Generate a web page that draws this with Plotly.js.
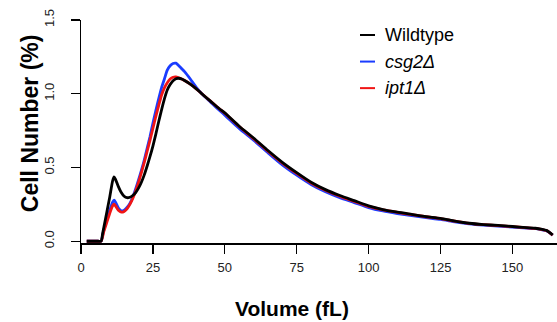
<!DOCTYPE html>
<html>
<head>
<meta charset="utf-8">
<script src="https://cdn.plot.ly/plotly-3.0.1.min.js"></script>
<style>html,body{margin:0;padding:0;background:#fff;}#chart{width:557px;height:322px;}</style>
</head>
<body>
<div id="chart"></div>
<script>
// Volume (fL)
var volume = [2,3,4,5,6,7,7.5,8,9,10,11,11.5,12,13,14,15,16,17,18,19,20,21,22,23,24,25,26,27,28,29,30,31,32,33,34,35,36,38,40,42,45,48,50,55,60,65,70,75,80,85,90,95,100,105,110,115,120,125,130,135,140,145,150,155,158,160,162,163,164];
// Cell Number (%)
var wildtype = [0,0,0,0,0,0,0.05,0.10,0.20,0.30,0.41,0.437,0.42,0.37,0.33,0.305,0.295,0.298,0.31,0.33,0.36,0.40,0.45,0.51,0.575,0.645,0.725,0.81,0.89,0.965,1.025,1.062,1.088,1.102,1.105,1.10,1.09,1.065,1.035,1.0,0.95,0.90,0.87,0.78,0.70,0.615,0.535,0.465,0.40,0.35,0.31,0.275,0.24,0.215,0.197,0.182,0.167,0.155,0.137,0.122,0.113,0.107,0.10,0.092,0.088,0.082,0.072,0.058,0.042];
var csg2 = [0,0,0,0,0,0,0.04,0.08,0.15,0.21,0.265,0.279,0.265,0.225,0.206,0.21,0.23,0.256,0.30,0.355,0.415,0.48,0.55,0.63,0.71,0.80,0.885,0.965,1.04,1.10,1.16,1.19,1.205,1.207,1.19,1.17,1.15,1.10,1.045,1.0,0.945,0.89,0.855,0.765,0.685,0.60,0.518,0.448,0.385,0.335,0.295,0.262,0.228,0.205,0.188,0.173,0.16,0.148,0.132,0.118,0.109,0.103,0.096,0.089,0.085,0.079,0.07,0.057,0.042];
var ipt1 = [0,0,0,0,0,0,0.03,0.07,0.13,0.19,0.24,0.251,0.24,0.21,0.197,0.202,0.22,0.25,0.29,0.34,0.40,0.465,0.535,0.61,0.685,0.765,0.845,0.92,0.99,1.04,1.075,1.10,1.112,1.114,1.108,1.10,1.09,1.065,1.035,1.0,0.95,0.90,0.868,0.778,0.695,0.61,0.53,0.46,0.395,0.345,0.305,0.27,0.236,0.213,0.196,0.18,0.166,0.153,0.136,0.121,0.112,0.106,0.099,0.091,0.087,0.081,0.071,0.057,0.042];

var seriesNames = ["Wildtype", "<i>csg2Δ</i>", "<i>ipt1Δ</i>"];
var seriesValues = [wildtype, csg2, ipt1];
var seriesColors = ["#000000", "#1a3cff", "#f01515"];
var xTicks = [0,25,50,75,100,125,150];
var yTicks = [0,0.5,1,1.5];
var yTickText = ["0.0","0.5","1.0","1.5"];

// draw order: blue, red, black on top
var order = [1,2,0];
var traces = order.map(function(i){
  return {x: volume, y: seriesValues[i], type: "scatter", mode: "lines",
          line: {color: seriesColors[i], width: 2.8, shape: "spline", smoothing: 0.6},
          showlegend: false, hoverinfo: "skip"};
});

var shapes = [], annotations = [];
seriesNames.forEach(function(n, i){
  var yy = 35 + i*26.5;
  shapes.push({type: "line", xref: "paper", yref: "paper",
    x0: (360-81)/476, x1: (375-81)/476,
    y0: 1-(yy-20)/222.6, y1: 1-(yy-20)/222.6,
    line: {color: seriesColors[i], width: 2}});
  annotations.push({xref: "paper", yref: "paper", x: (383-81)/476, y: 1-(yy-20)/222.6,
    xanchor: "left", yanchor: "middle", showarrow: false, text: n,
    font: {size: 18, color: "#000", family: "Liberation Sans, Arial, sans-serif"}});
});
annotations.push({xref: "paper", yref: "paper", x: (292-81)/476, y: -(308-242.6)/222.6,
  xanchor: "center", yanchor: "middle", showarrow: false, text: "<b>Volume (fL)</b>",
  font: {size: 21, color: "#000", family: "Liberation Sans, Arial, sans-serif"}});
annotations.push({xref: "paper", yref: "paper", x: -(81-30)/476, y: 1-(123-20)/222.6,
  xanchor: "center", yanchor: "middle", showarrow: false, textangle: -90, text: "<b>Cell Number (%)</b>",
  font: {size: 23, color: "#000", family: "Liberation Sans, Arial, sans-serif"}});

var layout = {
  width: 557, height: 322,
  margin: {l: 81, r: 0, t: 20, b: 79.4},
  paper_bgcolor: "#fff", plot_bgcolor: "#fff",
  font: {family: "Liberation Sans, Arial, sans-serif", color: "#222"},
  xaxis: {range: [0, 165.5], tickvals: xTicks, ticktext: xTicks.map(String),
          ticks: "outside", ticklen: 9, tickwidth: 1.2, tickcolor: "#000",
          showline: true, linecolor: "#000", linewidth: 1.5, showgrid: false, zeroline: false,
          ticklabelstandoff: 3,
          tickfont: {size: 13, color: "#222"}},
  yaxis: {range: [-0.012, 1.5], tickvals: yTicks, ticktext: yTickText, tickangle: -90,
          ticks: "outside", ticklen: 9, tickwidth: 1.2, tickcolor: "#000",
          showline: true, linecolor: "#000", linewidth: 1.5, showgrid: false, zeroline: false,
          ticklabelstandoff: 11,
          tickfont: {size: 13, color: "#222"}},
  shapes: shapes,
  annotations: annotations,
  showlegend: false
};
Plotly.newPlot("chart", traces, layout, {displayModeBar: false, staticPlot: true});
</script>
</body>
</html>
